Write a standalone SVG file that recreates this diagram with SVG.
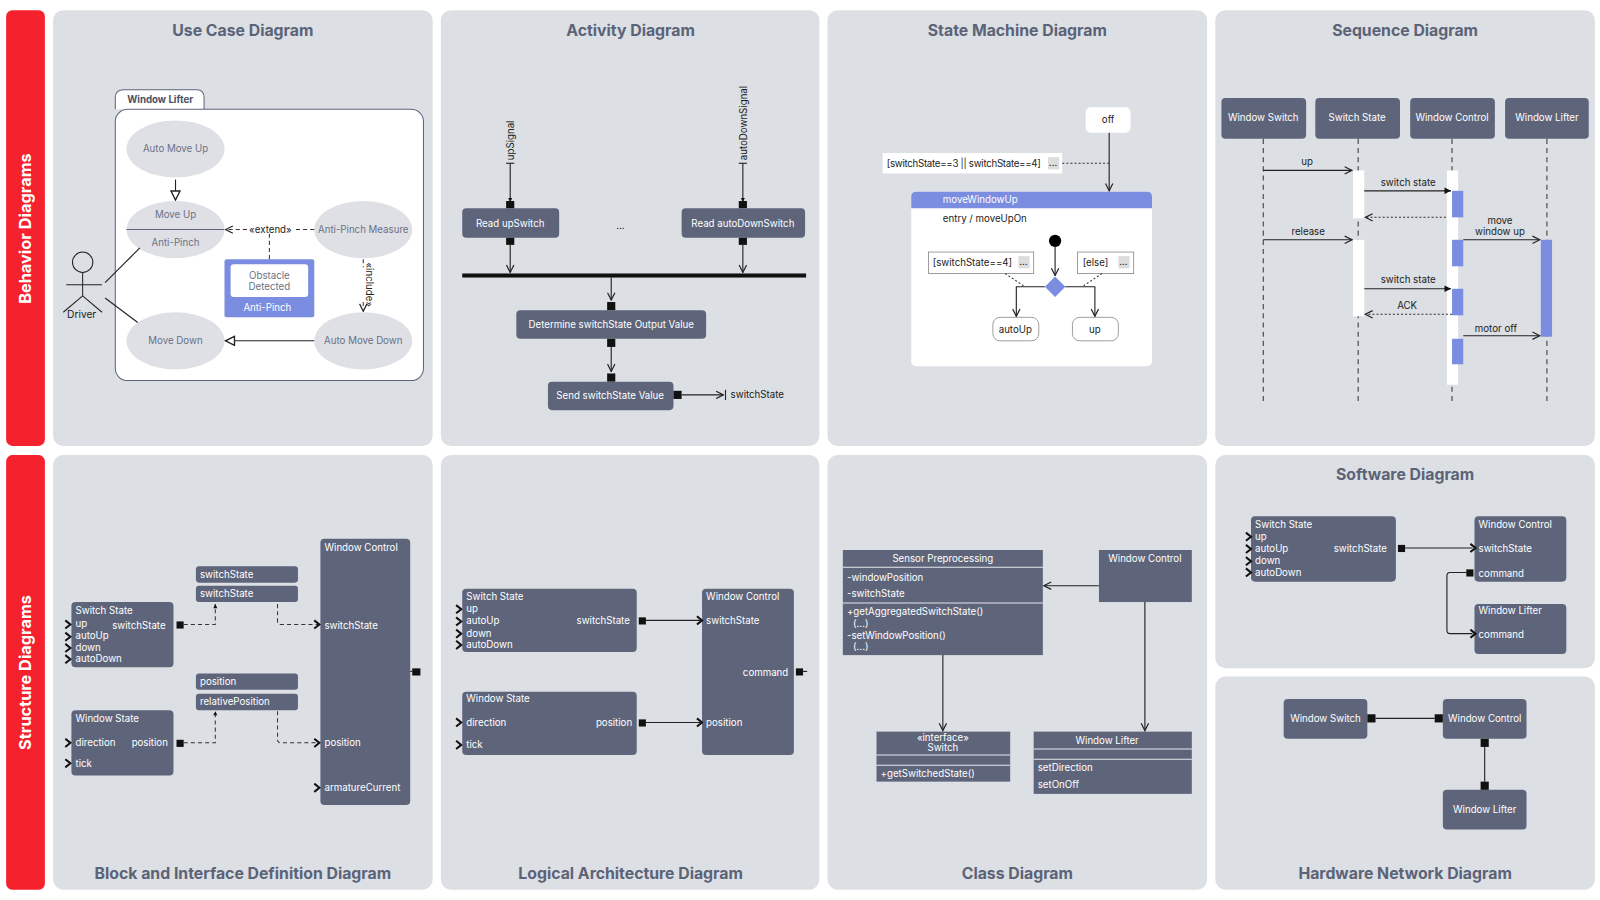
<svg xmlns="http://www.w3.org/2000/svg" width="1600" height="900" viewBox="0 0 1600 900">
<style>
text{font-family:Inter,"Liberation Sans",sans-serif;}
.panel{fill:#dcdfe3;}
.side{fill:#f5222d;}
.sidet{fill:#fff;font-size:16px;font-weight:bold;}
.title{fill:#5b6378;font-size:15.5px;font-weight:bold;text-anchor:middle;}
.node{fill:#5e657b;}
.nt{fill:#fff;font-size:9.5px;}
.ntc{fill:#fff;font-size:9.5px;text-anchor:middle;}
.ell{fill:#dfe0e6;}
.et{fill:#6b7185;font-size:9.5px;text-anchor:middle;}
.ln{stroke:#222;stroke-width:1.1;fill:none;}
.dash{stroke:#333;stroke-width:1;fill:none;stroke-dasharray:4 3;}
.dot{stroke:#333;stroke-width:1;fill:none;stroke-dasharray:2 2;}
.life{stroke:#333;stroke-width:1;stroke-dasharray:5 4;fill:none;}
.bt{fill:#222;font-size:9.5px;}
.btc{fill:#222;font-size:9.5px;text-anchor:middle;}
.wbox{fill:#fff;stroke:#888;stroke-width:0.8;}
.blue{fill:#7b8de0;}
.pin{fill:#111;}
.ip{stroke:#111;stroke-width:2;fill:none;}
</style>
<defs>
<marker id="open" viewBox="0 0 10 10" refX="9" refY="5" markerWidth="9" markerHeight="9" orient="auto-start-reverse" markerUnits="userSpaceOnUse"><path d="M1,1 L9,5 L1,9" fill="none" stroke="#222" stroke-width="1.3"/></marker>
<marker id="hollow" viewBox="0 0 10 10" refX="9" refY="5" markerWidth="11" markerHeight="11" orient="auto" markerUnits="userSpaceOnUse"><path d="M1,1 L9,5 L1,9 Z" fill="#fff" stroke="#222" stroke-width="1.2"/></marker>
<marker id="filled" viewBox="0 0 10 10" refX="9" refY="5" markerWidth="8" markerHeight="8" orient="auto" markerUnits="userSpaceOnUse"><path d="M1,1 L9,5 L1,9 Z" fill="#111"/></marker>
<marker id="small" viewBox="0 0 10 10" refX="9" refY="5" markerWidth="5" markerHeight="5" orient="auto" markerUnits="userSpaceOnUse"><path d="M1,1 L9,5 L1,9 Z" fill="#111"/></marker>
<path id="inp" d="M-5,-4 L0,0 L-5,4" class="ip"/>
</defs>
<g transform="scale(1.0204)">
<g id="frame">
<rect class="side" x="6" y="10" width="38" height="427" rx="6"/>
<rect class="side" x="6" y="446" width="38" height="426" rx="6"/>
<text class="sidet" transform="translate(30,224) rotate(-90)" text-anchor="middle">Behavior Diagrams</text>
<text class="sidet" transform="translate(30,659) rotate(-90)" text-anchor="middle">Structure Diagrams</text>
<rect class="panel" x="52" y="10" width="372" height="427" rx="10"/>
<rect class="panel" x="432" y="10" width="371" height="427" rx="10"/>
<rect class="panel" x="811" y="10" width="372" height="427" rx="10"/>
<rect class="panel" x="1191" y="10" width="372" height="427" rx="10"/>
<rect class="panel" x="52" y="446" width="372" height="426" rx="10"/>
<rect class="panel" x="432" y="446" width="371" height="426" rx="10"/>
<rect class="panel" x="811" y="446" width="372" height="426" rx="10"/>
<rect class="panel" x="1191" y="446" width="372" height="209" rx="10"/>
<rect class="panel" x="1191" y="663" width="372" height="209" rx="10"/>
<text class="title" x="238" y="35">Use Case Diagram</text>
<text class="title" x="618" y="35">Activity Diagram</text>
<text class="title" x="997" y="35">State Machine Diagram</text>
<text class="title" x="1377" y="35">Sequence Diagram</text>
<text class="title" x="238" y="861">Block and Interface Definition Diagram</text>
<text class="title" x="618" y="861">Logical Architecture Diagram</text>
<text class="title" x="997" y="861">Class Diagram</text>
<text class="title" x="1377" y="470">Software Diagram</text>
<text class="title" x="1377" y="861">Hardware Network Diagram</text>
</g>

<!-- Use case -->
<g id="uc-boundary">
<path d="M113,107 L113,96 Q113,88 121,88 L193,88 Q200,88 200,96 L200,107" fill="#fff" stroke="#5e657b" stroke-width="1"/>
<text x="157" y="101" text-anchor="middle" font-size="9.5" font-weight="bold" fill="#4a5166">Window Lifter</text>
<rect x="113" y="107" width="302" height="266" rx="12" fill="#fff" stroke="#5e657b" stroke-width="1"/>
</g>
<g id="uc-automoveup"><ellipse class="ell" cx="172" cy="146" rx="48" ry="28"/><text class="et" x="172" y="149">Auto Move Up</text></g>
<g id="uc-moveup"><ellipse class="ell" cx="172" cy="225" rx="48" ry="28"/><line x1="124" y1="225" x2="220" y2="225" stroke="#5e657b"/><text class="et" x="172" y="214">Move Up</text><text class="et" x="172" y="241">Anti-Pinch</text></g>
<g id="uc-antipinch"><ellipse class="ell" cx="356" cy="225" rx="48" ry="28"/><text class="et" x="356" y="228">Anti-Pinch Measure</text></g>
<g id="uc-movedown"><ellipse class="ell" cx="172" cy="334" rx="48" ry="28"/><text class="et" x="172" y="337">Move Down</text></g>
<g id="uc-automovedown"><ellipse class="ell" cx="356" cy="334" rx="48" ry="28"/><text class="et" x="356" y="337">Auto Move Down</text></g>
<g id="uc-obstacle"><rect class="blue" x="220" y="254" width="88" height="57" rx="2"/><rect x="226" y="259" width="76" height="32" rx="3" fill="#fff"/><text class="et" x="264" y="273">Obstacle</text><text class="et" x="264" y="284">Detected</text><text x="262" y="305" text-anchor="middle" font-size="9.5" fill="#fff">Anti-Pinch</text></g>
<g id="uc-driver" stroke="#222" stroke-width="1" fill="none"><circle cx="81" cy="257" r="10"/><line x1="81" y1="267" x2="81" y2="290"/><line x1="65" y1="279" x2="100" y2="279"/><line x1="81" y1="290" x2="62" y2="306"/><line x1="81" y1="290" x2="100" y2="306"/><text x="80" y="312" text-anchor="middle" font-size="10" fill="#222" stroke="none">Driver</text></g>

<!-- Activity -->
<g id="act-up"><rect class="node" x="453" y="204" width="95" height="29" rx="4"/><text class="ntc" x="500" y="222">Read upSwitch</text></g>
<g id="act-auto"><rect class="node" x="668" y="204" width="121" height="29" rx="4"/><text class="ntc" x="728" y="222">Read autoDownSwitch</text></g>
<text class="btc" x="608" y="224" font-size="14">...</text>
<g id="act-bar"><rect x="453" y="268" width="337" height="4" fill="#111"/></g>
<g id="act-determine"><rect class="node" x="506" y="304" width="186" height="28" rx="4"/><text class="ntc" x="599" y="321">Determine switchState Output Value</text></g>
<g id="act-send"><rect class="node" x="537" y="374" width="123" height="28" rx="4"/><text class="ntc" x="598" y="391">Send switchState Value</text></g>
<text class="bt" transform="translate(504,157) rotate(-90)">upSignal</text>
<text class="bt" transform="translate(732,157) rotate(-90)">autoDownSignal</text>
<text class="bt" x="716" y="390" font-size="10">switchState</text>

<!-- State machine -->
<g id="sm-off"><rect x="1064" y="105" width="44" height="25" rx="5" fill="#fff"/><text class="btc" x="1086" y="121">off</text></g>
<g id="sm-guard"><rect x="865" y="150" width="176" height="20" fill="#fff"/><text class="bt" x="869" y="164" font-size="9" textLength="151">[switchState==3 || switchState==4]</text><rect x="1027" y="154" width="11" height="12" fill="#ddd"/><text class="btc" x="1032" y="163" font-size="8">...</text></g>
<g id="sm-move"><rect x="893" y="188" width="236" height="171" rx="5" fill="#fff"/><path d="M893,204 L893,193 Q893,188 898,188 L1124,188 Q1129,188 1129,193 L1129,204 Z" class="blue"/><text x="924" y="199" font-size="9.5" fill="#fff">moveWindowUp</text><text class="bt" x="924" y="218">entry / moveUpOn</text></g>
<g id="sm-init"><circle cx="1034" cy="236" r="6" fill="#000"/></g>
<g id="sm-dec"><path d="M1034,271 L1044,281 L1034,291 L1024,281 Z" class="blue"/></g>
<g id="sm-g1"><rect class="wbox" x="910" y="247" width="103" height="21"/><text class="bt" x="914" y="261">[switchState==4]</text><rect x="998" y="251" width="11" height="12" fill="#ddd"/><text class="btc" x="1003" y="260" font-size="8">...</text></g>
<g id="sm-g2"><rect class="wbox" x="1056" y="247" width="55" height="21"/><text class="bt" x="1061" y="261">[else]</text><rect x="1096" y="251" width="11" height="12" fill="#ddd"/><text class="btc" x="1101" y="260" font-size="8">...</text></g>
<g id="sm-autoup"><rect class="wbox" x="973" y="311" width="45" height="23" rx="7"/><text class="btc" x="995" y="326">autoUp</text></g>
<g id="sm-upst"><rect class="wbox" x="1051" y="311" width="45" height="23" rx="7"/><text class="btc" x="1073" y="326">up</text></g>

<!-- Sequence -->
<g id="sq-ws"><rect class="node" x="1197" y="96" width="83" height="40" rx="4"/><text class="ntc" x="1238" y="119" font-size="10">Window Switch</text></g>
<g id="sq-ss"><rect class="node" x="1289" y="96" width="83" height="40" rx="4"/><text class="ntc" x="1330" y="119" font-size="10">Switch State</text></g>
<g id="sq-wc"><rect class="node" x="1382" y="96" width="83" height="40" rx="4"/><text class="ntc" x="1423" y="119" font-size="10">Window Control</text></g>
<g id="sq-wl"><rect class="node" x="1475" y="96" width="82" height="40" rx="4"/><text class="ntc" x="1516" y="119" font-size="10">Window Lifter</text></g>
<g id="sq-lifelines"><line class="life" x1="1238" y1="136" x2="1238" y2="395"/><line class="life" x1="1331" y1="136" x2="1331" y2="395"/><line class="life" x1="1423" y1="136" x2="1423" y2="395"/><line class="life" x1="1516" y1="136" x2="1516" y2="395"/></g>
<g id="sq-acts">
<rect x="1326" y="167" width="11" height="47" fill="#fff"/><rect x="1326" y="235" width="11" height="75" fill="#fff"/>
<rect x="1418" y="167" width="11" height="210" fill="#fff"/>
<rect class="blue" x="1423" y="187" width="11" height="26"/><rect class="blue" x="1423" y="235" width="11" height="26"/><rect class="blue" x="1423" y="283" width="11" height="26"/><rect class="blue" x="1423" y="332" width="11" height="25"/>
<rect class="blue" x="1510" y="235" width="11" height="95"/>
</g>

<!-- BDD -->
<g id="bdd-wc"><rect class="node" x="314" y="528" width="88" height="261" rx="4"/><text class="nt" x="318" y="540">Window Control</text><text class="nt" x="318" y="616">switchState</text><text class="nt" x="318" y="731">position</text><text class="nt" x="318" y="775">armatureCurrent</text></g>
<g id="bdd-ss"><rect class="node" x="70" y="590" width="100" height="64" rx="4"/><text class="nt" x="74" y="602">Switch State</text><text class="nt" x="74" y="614">up</text><text class="nt" x="110" y="616">switchState</text><text class="nt" x="74" y="626">autoUp</text><text class="nt" x="74" y="638">down</text><text class="nt" x="74" y="649">autoDown</text></g>
<g id="bdd-wst"><rect class="node" x="70" y="696" width="100" height="64" rx="4"/><text class="nt" x="74" y="708">Window State</text><text class="nt" x="74" y="731">direction</text><text class="nt" x="129" y="731">position</text><text class="nt" x="74" y="752">tick</text></g>
<g id="bdd-i1"><rect class="node" x="192" y="555" width="100" height="16" rx="3"/><text class="nt" x="196" y="566">switchState</text></g>
<g id="bdd-i2"><rect class="node" x="192" y="574" width="100" height="16" rx="3"/><text class="nt" x="196" y="585">switchState</text></g>
<g id="bdd-i3"><rect class="node" x="192" y="660" width="100" height="16" rx="3"/><text class="nt" x="196" y="671">position</text></g>
<g id="bdd-i4"><rect class="node" x="192" y="680" width="100" height="16" rx="3"/><text class="nt" x="196" y="691">relativePosition</text></g>

<!-- Logical -->
<g id="la-ss"><rect class="node" x="453" y="577" width="171" height="62" rx="4"/><text class="nt" x="457" y="588">Switch State</text><text class="nt" x="457" y="600">up</text><text class="nt" x="565" y="612">switchState</text><text class="nt" x="457" y="612">autoUp</text><text class="nt" x="457" y="624">down</text><text class="nt" x="457" y="635">autoDown</text></g>
<g id="la-ws"><rect class="node" x="453" y="678" width="171" height="62" rx="4"/><text class="nt" x="457" y="688">Window State</text><text class="nt" x="457" y="711">direction</text><text class="nt" x="584" y="711">position</text><text class="nt" x="457" y="733">tick</text></g>
<g id="la-wc"><rect class="node" x="688" y="577" width="90" height="163" rx="4"/><text class="nt" x="692" y="588">Window Control</text><text class="nt" x="692" y="612">switchState</text><text class="nt" x="728" y="662">command</text><text class="nt" x="692" y="711">position</text></g>

<!-- Class -->
<g id="cl-sp"><rect class="node" x="826" y="539" width="196" height="103"/><text class="ntc" x="924" y="551">Sensor Preprocessing</text><line x1="826" y1="556" x2="1022" y2="556" stroke="#e6e8ee"/><text class="nt" x="830" y="569">-windowPosition</text><text class="nt" x="830" y="585">-switchState</text><line x1="826" y1="591" x2="1022" y2="591" stroke="#e6e8ee"/><text class="nt" x="830" y="603">+getAggregatedSwitchState()</text><text class="nt" x="836" y="614">(...)</text><text class="nt" x="830" y="626">-setWindowPosition()</text><text class="nt" x="836" y="637">(...)</text></g>
<g id="cl-wc"><rect class="node" x="1077" y="539" width="91" height="51"/><text class="ntc" x="1122" y="551">Window Control</text></g>
<g id="cl-sw"><rect class="node" x="859" y="717" width="131" height="49"/><text class="ntc" x="924" y="726" font-size="8.5">«interface»</text><text class="ntc" x="924" y="736">Switch</text><line x1="859" y1="740" x2="990" y2="740" stroke="#e6e8ee"/><line x1="859" y1="750" x2="990" y2="750" stroke="#e6e8ee"/><text class="nt" x="863" y="761">+getSwitchedState()</text></g>
<g id="cl-wl"><rect class="node" x="1013" y="717" width="155" height="61"/><text class="ntc" x="1085" y="729">Window Lifter</text><line x1="1013" y1="734" x2="1168" y2="734" stroke="#e6e8ee"/><line x1="1013" y1="744" x2="1168" y2="744" stroke="#e6e8ee"/><text class="nt" x="1017" y="756">setDirection</text><text class="nt" x="1017" y="772">setOnOff</text></g>

<!-- Software -->
<g id="sw-ss"><rect class="node" x="1226" y="506" width="142" height="64" rx="4"/><text class="nt" x="1230" y="517">Switch State</text><text class="nt" x="1230" y="529">up</text><text class="nt" x="1230" y="541">autoUp</text><text class="nt" x="1307" y="541">switchState</text><text class="nt" x="1230" y="553">down</text><text class="nt" x="1230" y="564">autoDown</text></g>
<g id="sw-wc"><rect class="node" x="1445" y="506" width="90" height="64" rx="4"/><text class="nt" x="1449" y="517">Window Control</text><text class="nt" x="1449" y="541">switchState</text><text class="nt" x="1449" y="565">command</text></g>
<g id="sw-wl"><rect class="node" x="1445" y="592" width="90" height="49" rx="4"/><text class="nt" x="1449" y="602">Window Lifter</text><text class="nt" x="1449" y="625">command</text></g>

<!-- Hardware -->
<g id="hw-ws"><rect class="node" x="1258" y="685" width="82" height="39" rx="4"/><text class="ntc" x="1299" y="708">Window Switch</text></g>
<g id="hw-wc"><rect class="node" x="1414" y="685" width="82" height="39" rx="4"/><text class="ntc" x="1455" y="708">Window Control</text></g>
<g id="hw-wl"><rect class="node" x="1414" y="774" width="82" height="39" rx="4"/><text class="ntc" x="1455" y="797">Window Lifter</text></g>

<g id="connectors">
<line class="ln" x1="103" y1="277" x2="137" y2="243"/>
<line class="ln" x1="103" y1="292" x2="135" y2="316"/>
<line class="ln" x1="172" y1="176" x2="172" y2="196" marker-end="url(#hollow)"/>
<line class="dash" x1="308" y1="225" x2="287" y2="225"/>
<line class="dash" x1="242" y1="225" x2="221" y2="225" marker-end="url(#open)"/>
<text class="btc" x="265" y="228" font-size="9">«extend»</text>
<line class="dash" x1="264" y1="254" x2="264" y2="229"/>
<line class="dash" x1="356" y1="254" x2="356" y2="305" marker-end="url(#open)"/>
<rect x="351" y="262" width="10" height="34" fill="#fff"/>
<text class="btc" transform="translate(359,279) rotate(90)" font-size="8">«include»</text>
<line class="ln" x1="308" y1="334" x2="221" y2="334" marker-end="url(#hollow)"/>
<line class="ln" x1="500" y1="160" x2="500" y2="198" marker-end="url(#small)"/><line class="ln" x1="496" y1="160" x2="504" y2="160"/>
<rect class="pin" x="496" y="197" width="8" height="7"/>
<rect class="pin" x="496" y="233" width="8" height="7"/>
<line class="ln" x1="500" y1="240" x2="500" y2="267" marker-end="url(#open)"/>
<line class="ln" x1="728" y1="160" x2="728" y2="198" marker-end="url(#small)"/><line class="ln" x1="724" y1="160" x2="732" y2="160"/>
<rect class="pin" x="724" y="197" width="8" height="7"/>
<rect class="pin" x="724" y="233" width="8" height="7"/>
<line class="ln" x1="728" y1="240" x2="728" y2="267" marker-end="url(#open)"/>
<line class="ln" x1="599" y1="272" x2="599" y2="294" marker-end="url(#open)"/>
<rect class="pin" x="595" y="296" width="8" height="8"/>
<rect class="pin" x="595" y="332" width="8" height="8"/>
<line class="ln" x1="599" y1="340" x2="599" y2="364" marker-end="url(#open)"/>
<rect class="pin" x="595" y="366" width="8" height="8"/>
<rect class="pin" x="660" y="383" width="8" height="8"/>
<line class="ln" x1="668" y1="387" x2="709" y2="387" marker-end="url(#open)"/><line class="ln" x1="711" y1="382" x2="711" y2="392" stroke-width="1.5"/>
<line class="ln" x1="1087" y1="130" x2="1087" y2="187" marker-end="url(#open)" stroke="#555"/>
<line class="dot" x1="1041" y1="160" x2="1087" y2="160" stroke="#999"/>
<line class="ln" x1="1034" y1="242" x2="1034" y2="270" marker-end="url(#open)"/>
<path class="ln" d="M1024,281 L996,281 L996,310" marker-end="url(#open)"/>
<path class="ln" d="M1044,281 L1073,281 L1073,310" marker-end="url(#open)"/>
<line class="dot" x1="985" y1="268" x2="1003" y2="280" stroke="#aaa"/>
<line class="dot" x1="1080" y1="268" x2="1062" y2="280" stroke="#aaa"/>
<line class="ln" x1="1238" y1="167" x2="1325" y2="167" marker-end="url(#open)"/><text class="btc" x="1281" y="162">up</text>
<line class="ln" x1="1337" y1="187" x2="1422" y2="187" marker-end="url(#filled)"/><text class="btc" x="1380" y="182">switch state</text>
<line class="dot" x1="1417" y1="213" x2="1338" y2="213" marker-end="url(#open)"/>
<line class="ln" x1="1238" y1="235" x2="1325" y2="235" marker-end="url(#open)"/><text class="btc" x="1282" y="230">release</text>
<line class="ln" x1="1434" y1="235" x2="1509" y2="235" marker-end="url(#open)"/><text class="btc" x="1470" y="220">move</text><text class="btc" x="1470" y="230">window up</text>
<line class="ln" x1="1337" y1="283" x2="1422" y2="283" marker-end="url(#filled)"/><text class="btc" x="1380" y="277">switch state</text>
<line class="dot" x1="1423" y1="308" x2="1338" y2="308" marker-end="url(#open)"/><text class="btc" x="1379" y="303">ACK</text>
<line class="ln" x1="1434" y1="329" x2="1509" y2="329" marker-end="url(#open)"/><text class="btc" x="1466" y="325">motor off</text>
<use href="#inp" x="69" y="612"/><use href="#inp" x="69" y="624"/><use href="#inp" x="69" y="635"/><use href="#inp" x="69" y="646"/>
<use href="#inp" x="69" y="728"/><use href="#inp" x="69" y="748"/>
<rect class="pin" x="173" y="609" width="7" height="7"/><rect class="pin" x="173" y="725" width="7" height="7"/>
<path class="dash" d="M180,612 L211,612 L211,592" marker-end="url(#small)"/>
<path class="dash" d="M272,592 L272,609 Q272,612 275,612 L312,612"/>
<use href="#inp" x="313" y="612"/>
<path class="dash" d="M180,728 L211,728 L211,697" marker-end="url(#small)"/>
<path class="dash" d="M272,697 L272,725 Q272,728 275,728 L312,728"/>
<use href="#inp" x="313" y="728"/><use href="#inp" x="313" y="772"/>
<rect class="pin" x="404" y="655" width="8" height="7"/><line class="ln" x1="402" y1="658" x2="404" y2="658"/>
<use href="#inp" x="452" y="597"/><use href="#inp" x="452" y="609"/><use href="#inp" x="452" y="621"/><use href="#inp" x="452" y="632"/>
<use href="#inp" x="452" y="708"/><use href="#inp" x="452" y="730"/>
<rect class="pin" x="626" y="605" width="7" height="7"/><line class="ln" x1="633" y1="608" x2="686" y2="608"/><use href="#inp" x="688" y="608"/>
<rect class="pin" x="626" y="705" width="7" height="7"/><line class="ln" x1="633" y1="708" x2="686" y2="708"/><use href="#inp" x="688" y="708"/>
<rect class="pin" x="780" y="655" width="7" height="7"/><line class="ln" x1="787" y1="658" x2="791" y2="658"/>
<line class="ln" x1="1077" y1="574" x2="1023" y2="574" marker-end="url(#open)"/>
<line class="ln" x1="924" y1="642" x2="924" y2="716" marker-end="url(#open)"/>
<line class="ln" x1="1122" y1="590" x2="1122" y2="716" marker-end="url(#open)"/>
<use href="#inp" x="1226" y="526"/><use href="#inp" x="1226" y="538"/><use href="#inp" x="1226" y="550"/><use href="#inp" x="1226" y="561"/>
<rect class="pin" x="1370" y="534" width="7" height="7"/><line class="ln" x1="1377" y1="537" x2="1443" y2="537"/><use href="#inp" x="1446" y="537"/>
<rect class="pin" x="1437" y="558" width="7" height="7"/>
<path class="ln" d="M1437,561 L1421,561 Q1418,561 1418,564 L1418,618 Q1418,621 1421,621 L1443,621"/><use href="#inp" x="1446" y="621"/>
<rect class="pin" x="1340" y="700" width="8" height="8"/><rect class="pin" x="1406" y="700" width="8" height="8"/><line class="ln" x1="1348" y1="704" x2="1406" y2="704"/>
<rect class="pin" x="1451" y="724" width="8" height="8"/><rect class="pin" x="1451" y="766" width="8" height="8"/><line class="ln" x1="1455" y1="732" x2="1455" y2="766"/>
</g>
</g>
</svg>
